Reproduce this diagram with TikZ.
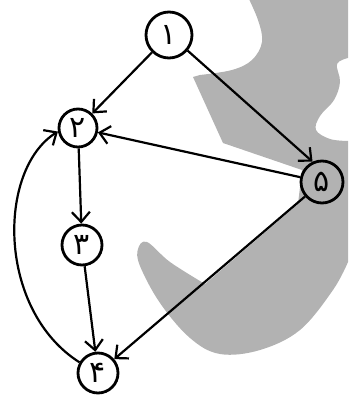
\documentclass[tikz,border=0pt]{standalone}
\usepackage{fontspec}
\newfontfamily\arabicfont[Script=Arabic]{DejaVu Sans}
\usetikzlibrary{arrows.meta}
\definecolor{wm}{RGB}{178,178,178}
\begin{document}
\begin{tikzpicture}[x=1pt,y=-1pt,
  vert/.style={circle,draw,line width=2.8pt,inner sep=0pt,font=\arabicfont\fontsize{30}{30}\selectfont},
  edge/.style={line width=2.2pt,-{Straight Barb[length=10pt,width=18pt,line width=2.2pt]}}]
\useasboundingbox (0,0) rectangle (348,398);
\begin{scope}
\clip (0,0) rectangle (348,398);
\fill[wm] (247,-5) -- (360,-5) -- (360,58)
  -- plot[smooth,tension=0.6] coordinates {(348,58) (337,64) (340,82) (334,100) (320,116) (316,130) (330,139) (348,141)}
  -- (360,141) -- (360,255)
  -- plot[smooth,tension=0.6] coordinates {(348,262) (333,290) (300,330) (260,350) (220,354) (190,338) (160,303) (140,266) (138,249) (147,242) (170,262) (205,284)}
  -- (298,204) -- (302,170) -- (223,143) -- (193,77)
  -- plot[smooth,tension=0.6] coordinates {(200,75) (232,70) (252,60) (262,42) (258,20) (247,-5)}
  -- cycle;
\end{scope}
\node[vert,minimum size=46pt] (n1) at (169,35) {۱};
\node[vert,minimum size=38pt] (n2) at (78,128) {۲};
\node[vert,minimum size=40pt] (n3) at (82,245) {۳};
\node[vert,minimum size=40pt] (n4) at (98,373) {۴};
\node[vert,minimum size=42pt] (n5) at (322,182) {۵};
\draw[edge] (n1) -- (n2);
\draw[edge] (n1.-40) -- (n5.115);
\draw[edge] (n5) -- (n2);
\draw[edge] (n2) -- (n3);
\draw[edge] (n3) -- (n4);
\draw[edge] (n5) -- (n4);
\draw[edge] (n4.150) .. controls (-3,310) and (-3,170) .. (n2.190);
\end{tikzpicture}
\end{document}
